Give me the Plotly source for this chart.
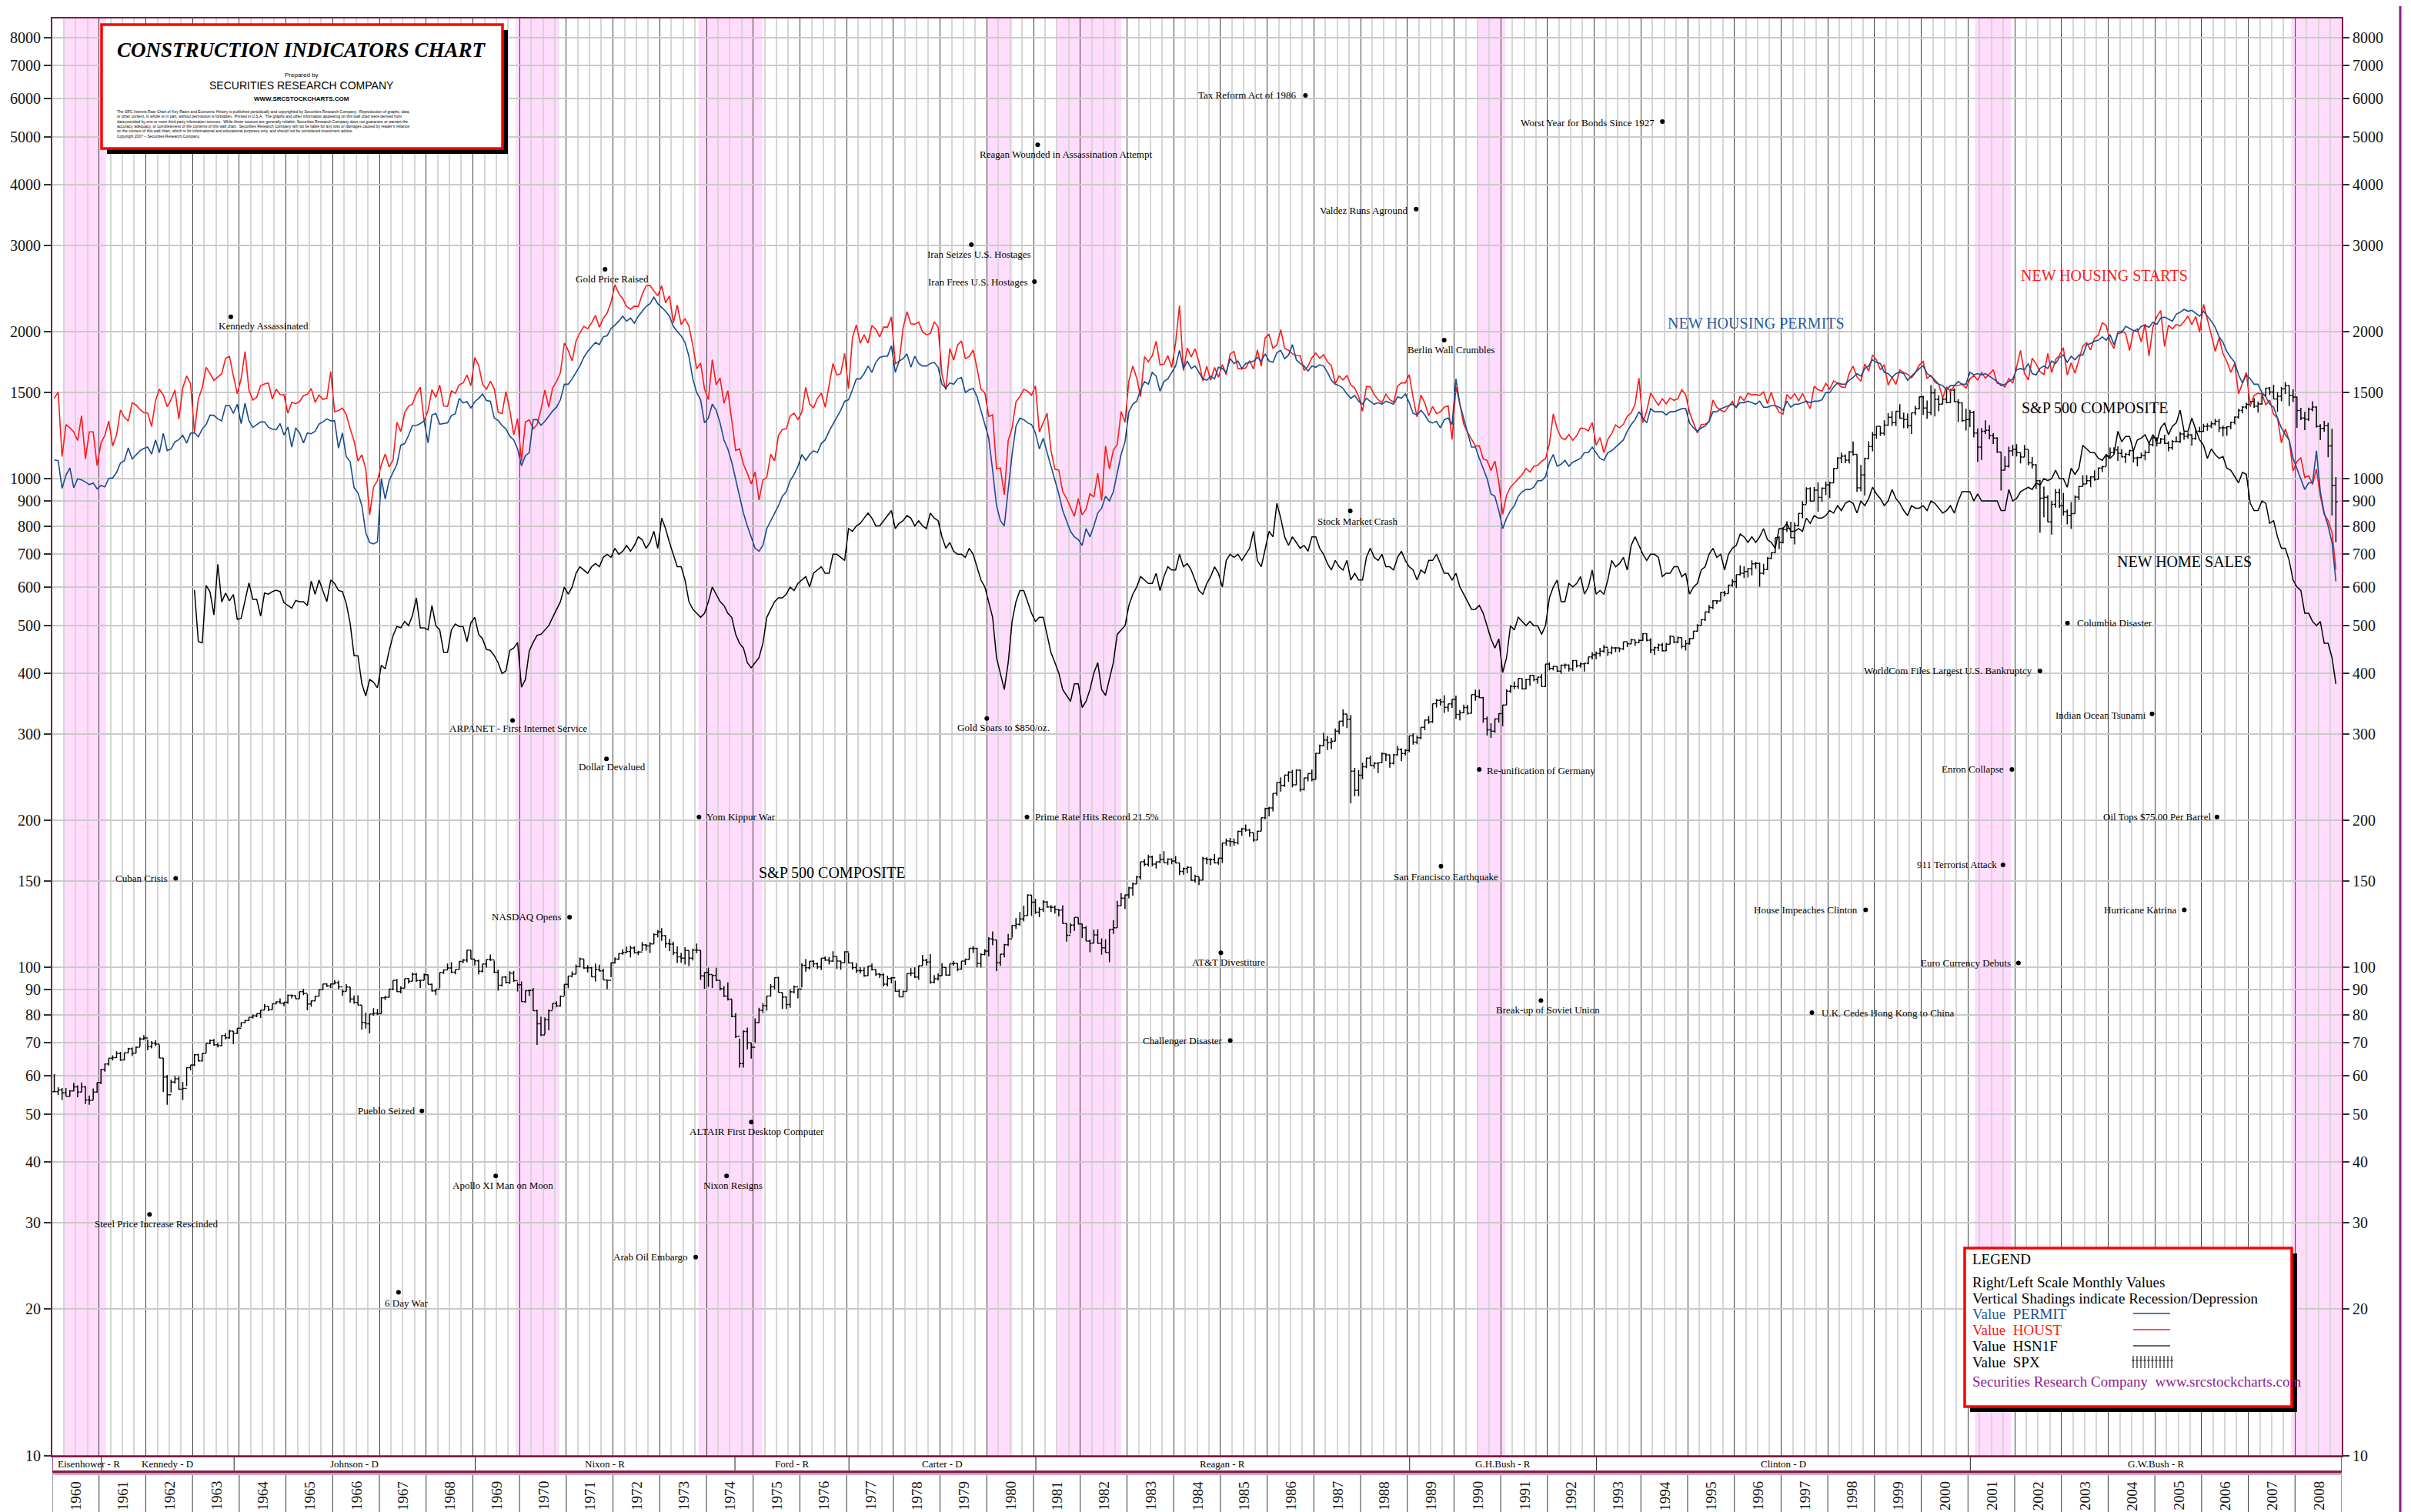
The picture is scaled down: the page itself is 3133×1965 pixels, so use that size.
import math
import plotly.graph_objects as go

# ---------------------------------------------------------------- data
START_YEAR = 1960

HOUST = [
    [1460, 1503, 1109, 1289, 1271, 1247, 1197, 1344, 1097, 1246, 1246, 1063],
    [1183, 1226, 1312, 1166, 1228, 1382, 1335, 1312, 1429, 1415, 1385, 1365],
    [1361, 1278, 1443, 1524, 1483, 1404, 1450, 1517, 1324, 1533, 1622, 1564],
    [1244, 1456, 1534, 1689, 1641, 1588, 1614, 1639, 1763, 1779, 1622, 1491],
    [1603, 1820, 1517, 1448, 1467, 1550, 1562, 1569, 1455, 1524, 1486, 1484],
    [1361, 1433, 1423, 1438, 1478, 1488, 1529, 1432, 1482, 1452, 1460, 1656],
    [1370, 1378, 1394, 1352, 1265, 1194, 1086, 1119, 1046, 843, 961, 990],
    [1067, 1123, 1056, 1091, 1304, 1248, 1364, 1407, 1421, 1491, 1538, 1308],
    [1380, 1520, 1466, 1554, 1408, 1405, 1512, 1495, 1556, 1569, 1630, 1548],
    [1769, 1705, 1561, 1524, 1583, 1528, 1368, 1358, 1507, 1381, 1229, 1327],
    [1085, 1305, 1319, 1264, 1290, 1385, 1517, 1399, 1534, 1580, 1647, 1893],
    [1828, 1741, 1910, 1986, 2049, 2026, 2083, 2158, 2041, 2128, 2182, 2295],
    [2494, 2390, 2334, 2249, 2221, 2254, 2252, 2382, 2481, 2485, 2421, 2366],
    [2481, 2289, 2365, 2084, 2266, 2067, 2123, 2051, 1874, 1677, 1724, 1526],
    [1451, 1752, 1555, 1607, 1426, 1513, 1316, 1142, 1150, 1070, 1026, 975],
    [1032, 904, 993, 1005, 1121, 1087, 1226, 1260, 1264, 1344, 1360, 1321],
    [1367, 1538, 1421, 1395, 1459, 1495, 1401, 1550, 1720, 1629, 1641, 1804],
    [1527, 1943, 2063, 1892, 1971, 1893, 2058, 2020, 1949, 2042, 2042, 2142],
    [1718, 1738, 2032, 2197, 2075, 2070, 2092, 1996, 1970, 1981, 2094, 2044],
    [1630, 1520, 1847, 1748, 1876, 1913, 1760, 1778, 1832, 1681, 1524, 1498],
    [1341, 1350, 1047, 1051, 927, 1196, 1269, 1436, 1471, 1523, 1510, 1482],
    [1547, 1246, 1306, 1360, 1140, 1045, 1041, 940, 911, 873, 837, 910],
    [843, 866, 931, 917, 1025, 902, 1166, 1046, 1144, 1173, 1372, 1303],
    [1586, 1699, 1606, 1472, 1776, 1733, 1785, 1910, 1710, 1715, 1785, 1688],
    [1897, 2260, 1663, 1851, 1774, 1843, 1732, 1586, 1698, 1590, 1689, 1612],
    [1711, 1632, 1800, 1821, 1680, 1676, 1684, 1743, 1676, 1834, 1698, 1942],
    [1972, 1848, 1876, 2018, 1848, 1831, 1800, 1786, 1784, 1664, 1699, 1767],
    [1807, 1763, 1792, 1733, 1704, 1566, 1622, 1592, 1626, 1555, 1532, 1473],
    [1373, 1544, 1542, 1486, 1450, 1431, 1488, 1450, 1433, 1545, 1571, 1570],
    [1632, 1464, 1337, 1483, 1429, 1345, 1405, 1359, 1369, 1400, 1409, 1202],
    [1541, 1422, 1291, 1244, 1205, 1166, 1167, 1097, 1089, 1039, 1086, 984],
    [845, 925, 960, 979, 996, 1019, 1049, 1031, 1060, 1064, 1085, 1099],
    [1180, 1357, 1263, 1213, 1201, 1231, 1198, 1224, 1269, 1266, 1252, 1303],
    [1170, 1213, 1130, 1203, 1237, 1288, 1270, 1291, 1342, 1362, 1420, 1606],
    [1301, 1376, 1496, 1452, 1413, 1457, 1422, 1462, 1446, 1457, 1520, 1484],
    [1364, 1300, 1240, 1290, 1292, 1305, 1448, 1399, 1381, 1369, 1403, 1438],
    [1394, 1474, 1444, 1495, 1484, 1486, 1480, 1504, 1424, 1503, 1411, 1367],
    [1355, 1486, 1457, 1492, 1442, 1494, 1437, 1390, 1546, 1520, 1510, 1566],
    [1525, 1584, 1567, 1540, 1536, 1641, 1698, 1614, 1582, 1715, 1660, 1792],
    [1748, 1670, 1710, 1553, 1611, 1559, 1669, 1648, 1635, 1608, 1648, 1708],
    [1737, 1604, 1626, 1575, 1559, 1463, 1541, 1507, 1549, 1551, 1560, 1532],
    [1600, 1625, 1590, 1649, 1605, 1636, 1670, 1567, 1562, 1540, 1602, 1568],
    [1698, 1829, 1642, 1592, 1764, 1717, 1655, 1633, 1804, 1648, 1753, 1788],
    [1853, 1629, 1726, 1643, 1751, 1867, 1897, 1833, 1939, 1967, 2083, 2057],
    [1911, 1846, 1998, 2003, 1981, 1828, 2002, 2024, 1905, 2072, 1782, 2042],
    [2144, 2207, 1864, 2061, 2025, 2068, 2054, 2095, 2151, 2065, 2147, 1994],
    [2273, 2119, 1969, 1821, 1942, 1802, 1737, 1650, 1720, 1491, 1570, 1649],
    [1409, 1480, 1495, 1490, 1415, 1448, 1354, 1330, 1183, 1264, 1197, 1037],
    [1084, 1103, 1005, 1013, 973, 1046, 923, 844, 820, 777, 652],
]

PERMIT = [
    [1092, 1088, 955, 1016, 1052, 958, 999, 994, 984, 972, 979, 953],
    [968, 962, 1001, 1003, 1029, 1076, 1088, 1156, 1097, 1118, 1140, 1153],
    [1160, 1122, 1200, 1130, 1238, 1141, 1150, 1190, 1201, 1226, 1182, 1238],
    [1241, 1218, 1263, 1290, 1349, 1347, 1325, 1313, 1411, 1410, 1360, 1420],
    [1295, 1427, 1313, 1273, 1291, 1306, 1306, 1274, 1262, 1259, 1296, 1228],
    [1275, 1160, 1270, 1240, 1183, 1240, 1235, 1250, 1293, 1306, 1325, 1313],
    [1313, 1154, 1240, 1109, 1083, 958, 935, 880, 775, 740, 735, 742],
    [1000, 908, 990, 1031, 1070, 1170, 1180, 1226, 1284, 1284, 1296, 1313],
    [1183, 1350, 1360, 1292, 1296, 1300, 1346, 1357, 1459, 1429, 1437, 1395],
    [1437, 1460, 1490, 1445, 1440, 1330, 1315, 1284, 1264, 1221, 1200, 1150],
    [1062, 1114, 1130, 1320, 1320, 1285, 1310, 1340, 1375, 1400, 1450, 1560],
    [1560, 1600, 1650, 1700, 1770, 1820, 1860, 1900, 1880, 1950, 1960, 2030],
    [2060, 2100, 2150, 2100, 2130, 2080, 2150, 2200, 2250, 2280, 2350, 2280],
    [2240, 2200, 2150, 2050, 2000, 1960, 1900, 1780, 1600, 1500, 1450, 1300],
    [1330, 1420, 1380, 1300, 1200, 1150, 1080, 1000, 920, 850, 800, 760],
    [720, 710, 730, 790, 820, 850, 880, 920, 940, 990, 1020, 1060],
    [1120, 1090, 1120, 1140, 1130, 1180, 1200, 1250, 1290, 1330, 1380, 1440],
    [1450, 1520, 1600, 1600, 1640, 1700, 1650, 1730, 1770, 1780, 1780, 1870],
    [1650, 1740, 1760, 1800, 1690, 1780, 1720, 1700, 1700, 1720, 1730, 1690],
    [1560, 1530, 1570, 1560, 1600, 1610, 1500, 1520, 1530, 1470, 1380, 1290],
    [1210, 1040, 880, 820, 800, 950, 1120, 1280, 1330, 1320, 1300, 1290],
    [1240, 1150, 1210, 1130, 1060, 1000, 930, 860, 820, 780, 760, 750],
    [730, 790, 760, 800, 850, 870, 920, 900, 940, 1030, 1120, 1190],
    [1370, 1420, 1440, 1520, 1580, 1560, 1650, 1620, 1510, 1580, 1600, 1650],
    [1700, 1830, 1680, 1740, 1680, 1700, 1650, 1600, 1590, 1620, 1600, 1690],
    [1680, 1650, 1760, 1720, 1740, 1680, 1720, 1730, 1740, 1770, 1740, 1800],
    [1740, 1730, 1810, 1830, 1760, 1790, 1880, 1750, 1720, 1700, 1660, 1700],
    [1690, 1710, 1700, 1650, 1590, 1560, 1550, 1530, 1490, 1460, 1480, 1440],
    [1420, 1460, 1440, 1420, 1430, 1420, 1440, 1430, 1420, 1470, 1460, 1490],
    [1430, 1360, 1350, 1380, 1350, 1310, 1300, 1310, 1270, 1320, 1330, 1290],
    [1600, 1420, 1320, 1240, 1160, 1160, 1100, 1050, 1000, 930, 920, 860],
    [790, 830, 860, 880, 920, 940, 950, 950, 960, 990, 990, 1010],
    [1080, 1120, 1060, 1070, 1090, 1060, 1080, 1090, 1100, 1130, 1130, 1160],
    [1130, 1100, 1090, 1130, 1140, 1160, 1180, 1200, 1250, 1290, 1320, 1370],
    [1330, 1300, 1390, 1370, 1370, 1370, 1350, 1370, 1370, 1380, 1390, 1390],
    [1300, 1270, 1250, 1270, 1280, 1310, 1370, 1370, 1390, 1400, 1410, 1420],
    [1400, 1430, 1430, 1440, 1430, 1420, 1440, 1400, 1400, 1410, 1410, 1400],
    [1380, 1440, 1400, 1420, 1420, 1430, 1440, 1430, 1440, 1440, 1450, 1500],
    [1500, 1540, 1570, 1560, 1560, 1590, 1610, 1640, 1620, 1680, 1700, 1750],
    [1730, 1720, 1650, 1640, 1610, 1640, 1650, 1640, 1590, 1620, 1650, 1680],
    [1700, 1640, 1620, 1590, 1560, 1550, 1520, 1550, 1550, 1580, 1560, 1560],
    [1650, 1630, 1640, 1630, 1640, 1620, 1600, 1580, 1550, 1560, 1580, 1600],
    [1670, 1680, 1670, 1720, 1640, 1630, 1680, 1700, 1680, 1740, 1720, 1770],
    [1790, 1730, 1780, 1750, 1790, 1790, 1880, 1890, 1910, 1920, 1950, 1920],
    [1970, 1880, 1980, 1990, 2050, 2030, 2010, 2000, 2050, 2060, 2040, 2090],
    [2070, 2130, 2140, 2120, 2100, 2170, 2190, 2220, 2200, 2210, 2180, 2150],
    [2200, 2150, 2100, 2040, 1950, 1900, 1820, 1770, 1730, 1630, 1570, 1630],
    [1600, 1560, 1560, 1500, 1470, 1420, 1400, 1330, 1270, 1230, 1200, 1100],
    [1050, 1000, 950, 980, 980, 1140, 940, 850, 800, 740, 616],
]

HSN1F_START_YEAR = 1963
HSN1F = [
    [591, 464, 461, 605, 586, 526, 668, 559, 583, 562, 579, 515],
    [518, 561, 612, 566, 566, 523, 583, 580, 587, 591, 587, 557],
    [550, 543, 563, 560, 560, 550, 617, 580, 620, 591, 560, 620],
    [610, 590, 587, 555, 505, 434, 434, 380, 359, 388, 383, 373],
    [415, 408, 444, 477, 498, 495, 510, 500, 525, 570, 495, 495],
    [490, 550, 500, 490, 441, 441, 490, 504, 498, 498, 464, 507],
    [520, 480, 470, 447, 445, 434, 420, 399, 404, 445, 450, 462],
    [374, 388, 444, 462, 478, 480, 490, 500, 520, 540, 560, 600],
    [580, 600, 640, 660, 650, 640, 660, 670, 660, 690, 700, 690],
    [720, 700, 710, 730, 710, 730, 760, 750, 720, 740, 780, 720],
    [830, 790, 740, 700, 660, 660, 620, 560, 540, 530, 520, 530],
    [560, 600, 580, 560, 550, 530, 520, 480, 460, 450, 420, 410],
    [420, 430, 460, 520, 540, 560, 570, 570, 580, 600, 590, 610],
    [620, 630, 600, 640, 650, 660, 640, 640, 700, 700, 690, 680],
    [790, 780, 800, 810, 830, 850, 830, 800, 800, 820, 840, 860],
    [790, 810, 820, 840, 830, 800, 820, 800, 790, 850, 830, 820],
    [760, 720, 740, 710, 700, 700, 690, 720, 700, 660, 620, 600],
    [560, 520, 430, 400, 370, 420, 510, 560, 590, 590, 560, 530],
    [510, 520, 520, 480, 440, 420, 400, 370, 360, 350, 380, 380],
    [340, 350, 370, 400, 420, 370, 360, 390, 420, 480, 490, 500],
    [550, 580, 600, 630, 620, 610, 610, 640, 590, 630, 660, 650],
    [650, 700, 660, 670, 650, 620, 590, 580, 610, 630, 660, 640],
    [600, 680, 700, 690, 700, 680, 700, 720, 780, 680, 660, 720],
    [780, 760, 890, 830, 760, 730, 760, 740, 720, 730, 710, 760],
    [760, 720, 700, 670, 650, 680, 660, 650, 680, 620, 640, 620],
    [620, 690, 720, 690, 680, 700, 660, 660, 650, 690, 710, 680],
    [660, 650, 620, 650, 640, 680, 680, 700, 670, 640, 640, 620],
    [640, 600, 580, 560, 540, 540, 550, 530, 500, 470, 450, 470],
    [401, 430, 500, 490, 520, 510, 500, 510, 500, 500, 480, 500],
    [570, 600, 620, 560, 560, 610, 600, 610, 630, 580, 600, 650],
    [580, 590, 580, 620, 680, 660, 670, 690, 650, 730, 760, 730],
    [700, 680, 700, 700, 690, 630, 640, 640, 660, 660, 630, 640],
    [580, 600, 610, 650, 660, 700, 720, 690, 700, 650, 700, 720],
    [730, 770, 760, 740, 760, 740, 760, 790, 750, 740, 720, 790],
    [790, 810, 780, 780, 790, 780, 830, 810, 840, 830, 830, 840],
    [860, 850, 880, 860, 890, 900, 890, 850, 900, 880, 910, 960],
    [930, 910, 880, 900, 950, 910, 890, 860, 840, 880, 870, 870],
    [880, 860, 900, 890, 870, 850, 860, 880, 850, 900, 940, 940],
    [940, 900, 930, 900, 900, 900, 900, 900, 860, 860, 950, 900],
    [910, 940, 950, 960, 950, 980, 970, 1000, 990, 1000, 1040, 1000],
    [1000, 960, 1050, 1020, 1050, 1170, 1150, 1130, 1130, 1100, 1090, 1120],
    [1100, 1120, 1250, 1190, 1220, 1220, 1140, 1200, 1210, 1230, 1180, 1230],
    [1190, 1270, 1300, 1230, 1280, 1300, 1380, 1250, 1250, 1330, 1260, 1200],
    [1170, 1100, 1150, 1120, 1100, 1110, 1050, 1040, 1010, 980, 1030, 1020],
    [890, 860, 860, 900, 890, 810, 820, 760, 720, 720, 680, 620],
    [600, 590, 530, 530, 510, 500, 510, 460, 460, 430, 380],
]

SPX_CLOSE = [
    [55.6, 56.1, 55.3, 54.4, 55.8, 56.9, 55.5, 56.9, 53.5, 53.4, 55.5, 58.1],
    [61.8, 63.4, 65.1, 65.3, 66.6, 64.6, 66.8, 68.1, 66.7, 68.6, 71.3, 71.6],
    [68.8, 69.9, 69.6, 65.2, 59.6, 54.8, 58.2, 59.1, 56.3, 56.5, 62.3, 63.1],
    [66.2, 64.3, 66.6, 69.8, 70.8, 69.4, 69.1, 72.5, 71.7, 74.0, 73.2, 75.0],
    [77.0, 77.8, 79.0, 79.5, 80.4, 81.7, 83.2, 81.8, 84.2, 84.9, 84.4, 84.8],
    [87.6, 87.4, 86.2, 89.1, 88.4, 84.1, 85.3, 87.2, 89.9, 92.4, 91.6, 92.4],
    [92.9, 91.2, 89.2, 91.1, 86.1, 84.7, 83.6, 77.1, 76.6, 80.2, 80.5, 80.3],
    [86.6, 86.8, 90.2, 94.0, 89.1, 90.6, 94.8, 93.6, 96.7, 93.9, 94.0, 96.5],
    [92.2, 89.4, 90.2, 97.6, 98.7, 99.6, 97.7, 98.9, 102.7, 103.4, 108.4, 103.9],
    [103.0, 98.1, 101.5, 103.7, 103.5, 97.7, 91.8, 95.5, 93.1, 97.2, 93.8, 92.1],
    [85.0, 89.5, 89.6, 81.5, 76.6, 72.7, 78.1, 81.5, 84.3, 83.3, 87.2, 92.2],
    [95.9, 96.8, 100.3, 104.0, 99.6, 99.7, 95.6, 99.0, 98.3, 94.2, 94.0, 102.1],
    [103.9, 106.6, 107.2, 107.7, 109.5, 107.1, 107.4, 111.1, 110.6, 111.6, 116.7, 118.1],
    [116.0, 111.7, 111.5, 107.0, 105.0, 104.3, 108.2, 104.3, 108.4, 108.3, 96.0, 97.6],
    [96.6, 96.2, 94.0, 90.3, 87.3, 86.0, 79.3, 72.2, 63.5, 73.9, 70.0, 68.6],
    [77.0, 81.6, 83.4, 87.3, 91.2, 95.2, 88.8, 86.9, 83.9, 89.0, 91.2, 90.2],
    [100.9, 99.7, 102.8, 101.6, 100.2, 104.3, 103.4, 102.9, 105.2, 102.9, 102.1, 107.5],
    [102.0, 99.8, 98.4, 98.4, 96.1, 100.5, 98.9, 96.8, 96.5, 92.3, 94.8, 95.1],
    [89.3, 87.0, 89.2, 97.0, 97.2, 95.5, 100.7, 103.3, 102.5, 93.2, 94.7, 96.1],
    [99.9, 96.3, 101.6, 101.8, 99.1, 102.9, 103.8, 109.3, 109.3, 101.8, 106.2, 107.9],
    [114.2, 113.7, 102.1, 106.3, 111.2, 114.2, 121.7, 122.4, 125.5, 127.5, 140.5, 135.8],
    [129.6, 131.3, 136.0, 132.8, 132.6, 131.2, 130.9, 122.8, 116.2, 121.9, 126.4, 122.6],
    [120.4, 113.1, 112.0, 116.4, 111.9, 109.6, 107.1, 119.5, 120.4, 133.7, 138.5, 140.6],
    [145.3, 148.1, 153.0, 164.4, 162.4, 168.1, 162.6, 164.4, 166.1, 163.6, 166.4, 164.9],
    [163.4, 157.1, 159.2, 160.1, 150.6, 153.2, 150.7, 166.7, 166.1, 166.1, 163.6, 167.2],
    [179.6, 181.2, 180.7, 179.8, 189.6, 191.9, 190.9, 188.6, 182.1, 189.8, 202.2, 211.3],
    [211.8, 226.9, 238.9, 235.5, 247.4, 250.8, 236.1, 252.9, 231.3, 244.0, 249.2, 242.2],
    [274.1, 284.2, 291.7, 288.4, 290.1, 304.0, 318.7, 329.8, 321.8, 251.8, 230.3, 247.1],
    [257.1, 267.8, 258.9, 261.3, 262.2, 273.5, 272.0, 261.5, 271.9, 279.0, 273.7, 277.7],
    [297.5, 288.9, 294.9, 309.6, 320.5, 318.0, 346.1, 351.5, 349.2, 340.4, 346.0, 353.4],
    [329.1, 331.9, 339.9, 330.8, 361.2, 358.0, 356.2, 322.6, 306.1, 304.0, 322.2, 330.2],
    [343.9, 367.1, 375.2, 375.3, 389.8, 371.2, 387.8, 395.4, 387.9, 392.5, 375.2, 417.1],
    [408.8, 412.7, 403.7, 415.0, 415.4, 408.1, 424.2, 414.0, 417.8, 418.7, 431.4, 435.7],
    [438.8, 443.4, 451.7, 440.2, 450.2, 450.5, 448.1, 463.6, 458.9, 467.8, 461.8, 466.5],
    [481.6, 467.1, 445.8, 450.9, 456.5, 444.3, 458.3, 475.5, 462.7, 472.4, 453.7, 459.3],
    [470.4, 487.4, 500.7, 514.7, 533.4, 544.8, 562.1, 561.9, 584.4, 581.5, 605.4, 615.9],
    [636.0, 640.4, 645.5, 654.2, 669.1, 670.6, 640.0, 652.0, 687.3, 705.3, 757.0, 740.7],
    [786.2, 790.8, 757.1, 801.3, 848.3, 885.1, 954.3, 899.5, 947.3, 914.6, 955.4, 970.4],
    [980.3, 1049.3, 1101.8, 1111.8, 1090.8, 1133.8, 1120.7, 957.3, 1017.0, 1098.7, 1163.6, 1229.2],
    [1279.6, 1238.3, 1286.4, 1335.2, 1301.8, 1372.7, 1328.7, 1320.4, 1282.7, 1362.9, 1389.0, 1469.3],
    [1394.5, 1366.4, 1498.6, 1452.4, 1420.6, 1454.6, 1430.8, 1517.7, 1436.5, 1429.4, 1315.2, 1320.3],
    [1366.0, 1239.9, 1160.3, 1249.5, 1255.8, 1224.4, 1211.2, 1133.6, 1040.9, 1059.8, 1139.5, 1148.1],
    [1130.2, 1106.7, 1147.4, 1076.9, 1067.1, 989.8, 911.6, 916.1, 815.3, 885.8, 936.3, 879.8],
    [855.7, 841.2, 848.2, 916.9, 963.6, 974.5, 990.3, 1008.0, 996.0, 1050.7, 1058.2, 1111.9],
    [1131.1, 1144.9, 1126.2, 1107.3, 1120.7, 1140.8, 1101.7, 1104.2, 1114.6, 1130.2, 1173.8, 1211.9],
    [1181.3, 1203.6, 1180.6, 1156.9, 1191.5, 1191.3, 1234.2, 1220.3, 1228.8, 1207.0, 1249.5, 1248.3],
    [1280.1, 1280.7, 1294.9, 1310.6, 1270.1, 1270.2, 1276.7, 1303.8, 1335.9, 1377.9, 1400.6, 1418.3],
    [1438.2, 1406.8, 1420.9, 1482.4, 1530.6, 1503.4, 1455.3, 1474.0, 1526.8, 1549.4, 1481.1, 1468.4],
    [1378.6, 1330.6, 1322.7, 1385.6, 1400.4, 1280.0, 1267.4, 1282.8, 1166.4, 968.8, 896.2],
]

SPX_HIGH = [
    [60.4, 56.8, 56.6, 56.6, 56.0, 58.0, 57.3, 58.1, 57.1, 54.6, 56.5, 58.1],
    [61.9, 63.5, 65.1, 66.0, 67.3, 67.1, 66.8, 68.4, 68.5, 68.9, 71.8, 72.6],
    [71.1, 70.6, 70.9, 69.4, 65.2, 60.2, 58.9, 59.9, 59.8, 58.2, 62.4, 63.1],
    [66.4, 66.5, 66.6, 69.8, 71.1, 71.3, 70.0, 72.5, 73.3, 74.5, 74.0, 75.0],
    [77.1, 78.0, 79.1, 80.1, 80.4, 81.7, 84.0, 83.2, 84.2, 85.2, 86.3, 84.8],
    [87.9, 87.9, 87.5, 89.2, 90.3, 88.1, 85.5, 87.2, 90.0, 92.4, 92.7, 92.6],
    [94.1, 93.8, 90.1, 92.4, 91.1, 87.5, 87.6, 83.5, 80.7, 80.2, 82.4, 82.1],
    [86.7, 87.4, 90.2, 94.0, 94.6, 91.4, 94.8, 95.0, 97.6, 97.3, 94.0, 97.0],
    [96.6, 92.6, 90.2, 97.6, 99.0, 101.7, 102.4, 98.9, 102.7, 104.0, 108.4, 108.4],
    [103.7, 103.6, 101.5, 103.7, 106.2, 103.1, 98.9, 95.5, 96.0, 98.1, 98.3, 93.2],
    [93.5, 89.5, 90.0, 90.7, 81.8, 79.2, 78.9, 81.9, 84.3, 85.2, 87.5, 92.3],
    [95.9, 98.0, 101.3, 104.6, 103.9, 101.0, 100.2, 101.7, 101.2, 99.4, 94.2, 102.2],
    [104.7, 106.7, 108.9, 110.2, 110.7, 110.4, 108.0, 112.6, 111.5, 112.6, 117.3, 119.1],
    [120.2, 116.3, 114.2, 112.8, 110.4, 107.0, 109.9, 108.2, 109.2, 111.8, 108.3, 97.6],
    [99.8, 96.6, 99.7, 93.9, 91.5, 93.1, 86.0, 80.5, 71.4, 74.3, 75.2, 70.0],
    [78.6, 82.6, 84.4, 87.4, 92.3, 95.2, 95.6, 88.8, 87.2, 90.1, 91.7, 90.4],
    [101.9, 104.0, 102.8, 103.4, 102.2, 104.3, 105.2, 105.0, 107.8, 105.2, 103.1, 107.8],
    [107.0, 102.5, 101.9, 100.0, 99.9, 100.5, 101.7, 99.1, 97.3, 97.1, 96.1, 95.5],
    [93.8, 90.1, 89.5, 97.0, 99.5, 99.9, 100.7, 106.0, 104.1, 106.3, 96.3, 97.1],
    [101.9, 100.0, 101.6, 103.0, 101.8, 102.9, 104.2, 109.3, 110.5, 109.6, 106.8, 108.9],
    [115.2, 118.4, 113.7, 106.3, 111.6, 117.0, 122.0, 126.0, 129.7, 133.7, 141.0, 140.5],
    [138.1, 132.7, 137.1, 136.6, 134.0, 133.8, 131.3, 133.9, 123.0, 123.0, 126.4, 126.3],
    [122.7, 121.4, 113.8, 119.3, 119.5, 114.6, 114.0, 119.5, 124.9, 136.7, 141.9, 140.6],
    [146.0, 149.0, 153.8, 164.4, 166.4, 170.0, 169.1, 164.4, 170.4, 172.7, 167.0, 167.0],
    [168.8, 163.4, 159.9, 161.0, 160.5, 154.6, 153.1, 168.2, 168.0, 167.0, 170.4, 167.5],
    [179.8, 183.4, 183.9, 183.4, 190.3, 192.9, 196.0, 192.1, 188.6, 190.1, 202.4, 212.0],
    [213.0, 227.0, 238.9, 244.7, 247.4, 251.8, 253.2, 254.2, 254.2, 244.0, 249.2, 254.0],
    [274.2, 285.5, 301.9, 297.2, 294.6, 308.0, 318.7, 336.8, 329.8, 328.1, 255.8, 253.2],
    [262.1, 268.6, 271.1, 263.0, 262.2, 275.0, 274.0, 272.3, 273.0, 283.7, 280.6, 279.4],
    [297.9, 301.1, 298.2, 309.6, 321.5, 326.8, 346.1, 353.7, 354.6, 360.4, 346.0, 353.4],
    [359.7, 336.1, 344.5, 344.3, 361.2, 369.8, 369.8, 357.3, 325.8, 315.7, 322.2, 330.9],
    [344.0, 370.5, 378.3, 384.2, 389.8, 389.8, 389.4, 396.2, 396.6, 393.1, 398.0, 417.1],
    [420.8, 413.8, 412.8, 416.0, 418.5, 416.7, 424.8, 425.1, 420.6, 418.7, 431.4, 441.3],
    [442.5, 450.3, 456.3, 449.4, 453.8, 451.9, 451.2, 463.6, 463.6, 470.1, 467.6, 468.6],
    [482.9, 482.0, 471.1, 453.0, 459.3, 461.2, 461.0, 477.6, 474.0, 475.0, 472.4, 466.8],
    [472.0, 487.7, 503.2, 514.7, 533.4, 551.1, 563.8, 563.7, 586.2, 589.0, 606.9, 622.9],
    [636.0, 664.2, 661.5, 656.1, 680.0, 675.9, 672.7, 669.2, 690.9, 706.1, 757.0, 761.8],
    [794.7, 817.7, 816.3, 812.9, 850.1, 898.7, 960.3, 960.3, 960.5, 983.1, 959.2, 986.3],
    [985.3, 1050.0, 1106.0, 1130.0, 1121.0, 1138.0, 1190.6, 1121.0, 1066.1, 1103.8, 1192.6, 1244.9],
    [1280.0, 1281.0, 1316.0, 1362.0, 1375.0, 1372.7, 1420.0, 1365.0, 1358.0, 1362.9, 1408.0, 1473.0],
    [1478.0, 1445.0, 1553.0, 1528.0, 1481.0, 1475.0, 1518.0, 1525.0, 1530.0, 1454.0, 1432.0, 1389.0],
    [1383.0, 1376.0, 1267.0, 1269.0, 1316.0, 1287.0, 1239.0, 1215.0, 1135.0, 1111.0, 1162.0, 1173.0],
    [1176.0, 1131.0, 1172.0, 1147.0, 1107.0, 1070.0, 994.0, 963.0, 925.0, 900.0, 952.0, 954.0],
    [935.0, 865.0, 895.0, 924.0, 965.0, 1015.0, 1016.0, 1011.0, 1040.0, 1054.0, 1063.0, 1112.0],
    [1158.0, 1159.0, 1164.0, 1150.0, 1128.0, 1146.0, 1141.0, 1109.0, 1130.0, 1142.0, 1188.0, 1217.0],
    [1212.0, 1212.0, 1229.0, 1192.0, 1199.0, 1219.0, 1246.0, 1245.0, 1243.0, 1233.0, 1270.0, 1276.0],
    [1295.0, 1297.0, 1310.0, 1326.0, 1326.0, 1284.0, 1280.0, 1306.0, 1340.0, 1389.0, 1407.0, 1431.0],
    [1441.0, 1462.0, 1438.0, 1499.0, 1535.0, 1540.0, 1556.0, 1504.0, 1539.0, 1576.0, 1554.0, 1523.0],
    [1471.0, 1396.0, 1370.0, 1397.0, 1440.0, 1405.0, 1292.0, 1313.0, 1300.0, 1264.0, 1007.0],
]

SPX_LOW = [
    [55.6, 54.7, 53.5, 54.4, 54.3, 55.7, 54.2, 55.5, 52.5, 52.3, 53.5, 55.3],
    [57.6, 61.1, 62.9, 64.4, 65.2, 64.3, 64.4, 66.7, 65.8, 66.7, 68.7, 70.9],
    [67.6, 68.2, 69.0, 65.2, 55.5, 52.3, 55.4, 57.8, 56.1, 53.5, 57.1, 61.5],
    [62.7, 64.1, 64.1, 66.8, 69.5, 69.1, 68.5, 68.9, 71.2, 71.4, 69.6, 73.0],
    [75.4, 76.9, 77.8, 78.5, 79.0, 78.7, 81.7, 81.3, 81.8, 84.0, 84.2, 83.2],
    [84.2, 86.3, 86.2, 86.3, 87.7, 81.6, 83.0, 85.3, 87.2, 89.9, 91.2, 90.6],
    [92.2, 90.2, 87.4, 89.2, 84.6, 84.2, 83.6, 74.5, 74.9, 73.2, 79.6, 79.8],
    [80.4, 85.6, 86.6, 89.8, 89.1, 88.4, 90.6, 92.6, 93.6, 93.3, 90.7, 94.0],
    [92.2, 89.1, 87.7, 90.6, 96.9, 98.7, 97.3, 96.7, 98.9, 101.9, 102.3, 103.9],
    [100.8, 96.7, 97.6, 99.8, 103.0, 97.2, 89.5, 91.3, 92.7, 92.4, 93.3, 89.2],
    [85.0, 84.6, 87.3, 81.5, 69.3, 72.3, 72.9, 74.3, 81.9, 82.8, 83.0, 87.5],
    [90.6, 95.3, 96.9, 100.0, 99.3, 97.6, 95.6, 93.5, 98.0, 94.2, 90.2, 95.4],
    [101.7, 103.5, 106.1, 106.9, 104.7, 106.6, 105.9, 107.9, 108.1, 106.8, 111.7, 115.1],
    [113.2, 109.6, 107.9, 105.9, 102.0, 102.1, 101.3, 100.5, 103.2, 106.8, 94.2, 90.3],
    [91.2, 90.7, 93.7, 89.6, 86.9, 85.5, 79.0, 71.6, 62.3, 62.3, 67.9, 65.0],
    [70.0, 76.9, 80.6, 81.5, 87.1, 90.1, 88.8, 82.2, 82.1, 82.6, 88.4, 86.3],
    [90.9, 97.9, 99.0, 100.0, 99.2, 98.6, 103.0, 101.3, 102.6, 99.2, 98.8, 102.1],
    [101.8, 98.9, 97.3, 97.0, 95.6, 96.0, 98.4, 96.0, 95.0, 91.4, 91.3, 92.7],
    [89.1, 87.0, 86.9, 89.3, 95.9, 95.0, 94.3, 100.7, 100.8, 92.5, 92.7, 93.9],
    [96.0, 96.1, 96.0, 100.8, 98.1, 98.9, 101.1, 103.6, 106.9, 99.9, 99.9, 105.8],
    [105.2, 110.9, 98.2, 100.6, 104.7, 110.5, 114.9, 119.8, 121.6, 124.1, 127.5, 127.4],
    [128.5, 126.6, 129.7, 132.3, 129.7, 128.8, 127.0, 122.8, 112.8, 117.2, 118.7, 122.3],
    [114.8, 113.1, 107.3, 111.9, 111.7, 106.1, 107.1, 102.4, 117.0, 120.4, 133.6, 131.6],
    [138.3, 140.0, 147.9, 151.0, 161.0, 160.6, 160.8, 159.2, 163.3, 163.4, 161.8, 162.4],
    [163.4, 154.3, 154.7, 155.6, 150.2, 149.0, 147.3, 150.7, 162.4, 161.7, 163.0, 162.1],
    [163.4, 177.1, 176.5, 177.2, 178.4, 185.9, 189.5, 184.9, 180.7, 181.9, 189.8, 200.9],
    [203.5, 208.4, 224.4, 228.8, 233.9, 239.6, 233.4, 235.7, 228.7, 229.9, 240.0, 240.0],
    [242.2, 273.2, 283.0, 278.2, 279.4, 289.8, 300.0, 310.7, 308.5, 216.5, 223.9, 223.9],
    [242.6, 255.6, 258.5, 255.0, 249.5, 262.2, 264.0, 256.0, 260.0, 271.2, 264.0, 271.2],
    [275.3, 285.4, 286.0, 292.7, 305.5, 314.9, 316.1, 340.0, 343.2, 331.6, 333.6, 339.5],
    [322.2, 320.0, 330.9, 328.7, 330.8, 350.9, 355.6, 316.6, 298.2, 294.5, 301.9, 316.9],
    [311.5, 343.9, 364.2, 370.5, 371.3, 370.1, 370.4, 376.5, 384.5, 380.6, 375.2, 375.1],
    [405.1, 405.0, 401.9, 398.8, 408.2, 402.7, 403.5, 410.6, 410.3, 402.7, 416.9, 426.3],
    [426.9, 432.4, 440.2, 433.5, 437.0, 441.4, 441.3, 446.0, 451.9, 457.6, 455.0, 460.6],
    [465.4, 464.3, 438.9, 435.9, 443.8, 442.8, 443.3, 458.2, 460.2, 460.1, 449.0, 444.6],
    [457.2, 469.7, 485.4, 500.2, 511.1, 530.2, 540.8, 553.6, 562.1, 573.8, 581.5, 601.0],
    [597.3, 633.8, 626.0, 627.6, 634.0, 654.4, 600.8, 636.3, 649.4, 684.2, 703.8, 716.7],
    [737.0, 777.9, 756.8, 733.5, 798.5, 829.8, 887.8, 897.6, 899.5, 855.3, 896.1, 924.9],
    [912.8, 979.0, 1048.0, 1075.0, 1075.0, 1074.0, 1114.0, 939.0, 942.0, 923.3, 1098.0, 1136.8],
    [1206.0, 1223.0, 1225.0, 1282.0, 1282.0, 1281.0, 1325.0, 1268.0, 1268.0, 1234.0, 1348.0, 1387.0],
    [1350.0, 1325.0, 1348.0, 1340.0, 1373.0, 1420.0, 1425.0, 1429.0, 1436.0, 1305.0, 1305.0, 1254.0],
    [1275.0, 1214.0, 1082.0, 1092.0, 1233.0, 1203.0, 1177.0, 1129.0, 945.0, 1040.0, 1054.0, 1112.0],
    [1110.0, 1074.0, 1106.0, 1064.0, 1049.0, 952.0, 775.0, 833.0, 815.0, 768.0, 872.0, 871.0],
    [840.0, 806.0, 789.0, 847.0, 903.0, 963.0, 975.0, 960.0, 990.0, 996.0, 1031.0, 1061.0],
    [1108.0, 1124.0, 1087.0, 1105.0, 1076.0, 1113.0, 1079.0, 1060.0, 1101.0, 1090.0, 1127.0, 1163.0],
    [1163.0, 1180.0, 1176.0, 1137.0, 1146.0, 1188.0, 1183.0, 1201.0, 1206.0, 1168.0, 1201.0, 1243.0],
    [1245.0, 1253.0, 1268.0, 1284.0, 1245.0, 1219.0, 1224.0, 1262.0, 1291.0, 1327.0, 1360.0, 1386.0],
    [1403.0, 1396.0, 1364.0, 1416.0, 1476.0, 1484.0, 1454.0, 1371.0, 1439.0, 1489.0, 1407.0, 1435.0],
    [1270.0, 1317.0, 1257.0, 1312.0, 1373.0, 1272.0, 1200.0, 1247.0, 1106.0, 840.0, 741.0],
]

TICK_VALUES = [10, 20, 30, 40, 50, 60, 70, 80, 90, 100, 150, 200, 300, 400, 500,
               600, 700, 800, 900, 1000, 1500, 2000, 3000, 4000, 5000, 6000, 7000, 8000]
YEARS = list(range(1960, 2009))

PRESIDENTS = ["Eisenhower - R", "Kennedy - D", "Johnson - D", "Nixon - R", "Ford - R",
              "Carter - D", "Reagan - R", "G.H.Bush - R", "Clinton - D", "G.W.Bush - R"]
PRES_START = [1960.0, 1961.05, 1963.89, 1969.05, 1974.61, 1977.05, 1981.05, 1989.05, 1993.05, 2001.05]
PRES_END_ALL = 2009.0

REC_START = [1960.23, 1969.92, 1973.83, 1980.0, 1981.5, 1990.5, 2001.15, 2007.92]
REC_END = [1961.15, 1970.85, 1975.2, 1980.55, 1982.88, 1991.1, 2001.92, 2009.0]

EVENT_NAMES = [
    "Kennedy Assassinated", "Cuban Crisis", "Steel Price Increase Rescinded", "Pueblo Seized",
    "6 Day War", "Apollo XI Man on Moon", "ARPANET - First Internet Service", "NASDAQ Opens",
    "Dollar Devalued", "Gold Price Raised", "Yom Kippur War", "ALTAIR First Desktop Computer",
    "Nixon Resigns", "Arab Oil Embargo", "Iran Seizes U.S. Hostages", "Iran Frees U.S. Hostages",
    "Reagan Wounded in Assassination Attempt", "Gold Soars to $850/oz.", "Prime Rate Hits Record 21.5%",
    "Tax Reform Act of 1986", "AT&T Divestiture", "Challenger Disaster", "Stock Market Crash",
    "Valdez Runs Aground", "Berlin Wall Crumbles", "Worst Year for Bonds Since 1927",
    "San Francisco Earthquake", "Re-unification of Germany", "Break-up of Soviet Union",
    "U.K. Cedes Hong Kong to China", "House Impeaches Clinton", "Columbia Disaster",
    "WorldCom Files Largest U.S. Bankruptcy", "Indian Ocean Tsunami", "Enron Collapse",
    "Oil Tops $75.00 Per Barrel", "911 Terrorist Attack", "Hurricane Katrina", "Euro Currency Debuts",
]
EVENT_X = [1963.82, 1962.64, 1962.08, 1967.91, 1967.41, 1969.49, 1969.85, 1971.07,
           1971.86, 1971.83, 1973.84, 1974.96, 1974.43, 1973.77, 1979.67, 1981.02,
           1981.09, 1980.0, 1980.86, 1986.82, 1985.01, 1985.21, 1987.78, 1989.19,
           1989.79, 1994.46, 1989.72, 1990.54, 1991.86, 1997.66, 1998.81, 2003.13,
           2002.54, 2004.94, 2001.94, 2006.33, 2001.75, 2005.63, 2002.08]
EVENT_Y = [2143, 152, 31.2, 50.8, 21.6, 37.4, 320, 126.6,
           267, 2680, 203, 48.2, 37.4, 25.5, 3010, 2530,
           4820, 323, 203, 6085, 107, 70.8, 859, 3560,
           1920, 5380, 161, 254, 85.5, 80.7, 131, 506,
           404, 330, 254, 203, 162, 131, 102]

SERIES_LABELS = ["S&P 500 COMPOSITE", "NEW HOUSING PERMITS", "NEW HOUSING STARTS",
                 "S&P 500 COMPOSITE", "NEW HOME SALES"]
SERIES_LABEL_X = [1976.69, 1996.47, 2003.92, 2003.72, 2005.63]
SERIES_LABEL_Y = [156, 2080, 2605, 1396, 676]

# ---------------------------------------------------------------- style / geometry
W, H = 3133, 1965
ML, MR, MT, MB = 60, 98, 16, 81
PW, PH = W - ML - MR, H - MT - MB
SERIF = "Liberation Serif"
SANS = "Liberation Sans"
MAROON = "#7d1b45"
BLUE = "#1a4d8f"
RED = "#ff1a1a"
PINK = "#ffdcfc"
PURPLE = "#8e1a8e"

# label placement per event: (xanchor, dx px, dy px downward)
EVENT_STYLE = [
    ("left", -18, 12), ("right", -8, 0), ("center", 9, 12), ("right", -6, 0),
    ("center", 10, 14), ("center", 9, 12), ("center", 7, 10), ("right", -8, 0),
    ("center", 7, 10), ("center", 9, 12), ("left", 8, 0), ("center", 7, 12),
    ("center", 8, 12), ("right", -8, 0), ("center", 10, 12), ("right", -6, 0),
    ("center", 37, 12), ("center", 22, 12), ("left", 8, 0), ("right", -10, 0),
    ("center", 10, 12), ("right", -8, 0), ("center", 9, 14), ("right", -8, 2),
    ("center", 9, 12), ("right", -8, 2), ("center", 7, 14), ("left", 8, 2),
    ("center", 9, 12), ("left", 10, 0), ("right", -8, 0), ("left", 10, 0),
    ("right", -8, 0), ("right", -6, 2), ("right", -8, 0), ("right", -6, 0),
    ("right", -6, 0), ("right", -8, 0), ("right", -8, 0),
]
SERIES_LABEL_COLORS = ["black", "#2a5aa0", RED, "black", "black"]


def pxx(x):
    return (x - ML) / PW


def pxy(y):
    return (H - MB - y) / PH


def monthly(rows, start):
    xs, ys = [], []
    for i, row in enumerate(rows):
        for m, v in enumerate(row):
            xs.append(start + i + (m + 0.5) / 12.0)
            ys.append(v)
    return xs, ys


fig = go.Figure()

hx, hy = monthly(HOUST, START_YEAR)
px_, py_ = monthly(PERMIT, START_YEAR)
sx, sy = monthly(HSN1F, HSN1F_START_YEAR)
cx, cc = monthly(SPX_CLOSE, START_YEAR)
_, ch = monthly(SPX_HIGH, START_YEAR)
_, cl = monthly(SPX_LOW, START_YEAR)
co = [cc[0]] + cc[:-1]

fig.add_trace(go.Scatter(x=hx, y=hy, mode="lines", line=dict(color=RED, width=1.6),
                         hoverinfo="skip"))
fig.add_trace(go.Scatter(x=px_, y=py_, mode="lines", line=dict(color=BLUE, width=1.6),
                         hoverinfo="skip"))
fig.add_trace(go.Scatter(x=sx, y=sy, mode="lines", line=dict(color="black", width=1.5),
                         hoverinfo="skip"))
fig.add_trace(go.Ohlc(x=cx, open=co, high=ch, low=cl, close=cc, tickwidth=0.45,
                      increasing=dict(line=dict(color="black", width=1.5)),
                      decreasing=dict(line=dict(color="black", width=1.5)),
                      hoverinfo="skip"))
fig.add_trace(go.Scatter(x=EVENT_X, y=EVENT_Y, mode="markers",
                         marker=dict(color="black", size=6), hoverinfo="skip"))
fig.add_trace(go.Scatter(x=[1960.5], y=[100], yaxis="y2", mode="markers",
                         marker=dict(opacity=0), hoverinfo="skip"))

shapes = []
annotations = []

# recession shading
for a, b in zip(REC_START, REC_END):
    shapes.append(dict(type="rect", xref="x", yref="paper", x0=a, x1=b, y0=0, y1=1,
                       fillcolor=PINK, line=dict(width=0), layer="below"))

# event labels (log axis: annotation y is given as log10 of the value)
for name, ex, ey, (anc, dx, dy) in zip(EVENT_NAMES, EVENT_X, EVENT_Y, EVENT_STYLE):
    annotations.append(dict(x=ex, y=math.log10(ey), yref="y", xref="x", text=name,
                            showarrow=False, xanchor=anc, yanchor="middle",
                            xshift=dx, yshift=-dy,
                            font=dict(family=SERIF, size=13, color="black")))

for t, lx, ly, col in zip(SERIES_LABELS, SERIES_LABEL_X, SERIES_LABEL_Y, SERIES_LABEL_COLORS):
    annotations.append(dict(x=lx, y=math.log10(ly), xref="x", yref="y", text=t, showarrow=False,
                            xanchor="center", yanchor="middle",
                            font=dict(family=SERIF, size=20, color=col)))

# presidents row
shapes.append(dict(type="rect", xref="x", yref="paper", x0=1960, x1=2009,
                   y0=pxy(1884), y1=pxy(1904), line=dict(color=MAROON, width=1.5), layer="above"))
ends = PRES_START[1:] + [PRES_END_ALL]
for i, (nm, s, e) in enumerate(zip(PRESIDENTS, PRES_START, ends)):
    if i > 0:
        shapes.append(dict(type="line", xref="x", yref="paper", x0=s, x1=s,
                           y0=pxy(1885), y1=pxy(1903), line=dict(color="#222", width=1)))
    if i == 0:
        annotations.append(dict(x=s + 0.08, y=pxy(1894), xref="x", yref="paper", text=nm,
                                showarrow=False, xanchor="left", yanchor="middle",
                                font=dict(family=SERIF, size=13, color="black")))
    else:
        annotations.append(dict(x=(s + e) / 2, y=pxy(1894), xref="x", yref="paper", text=nm,
                                showarrow=False, xanchor="center", yanchor="middle",
                                font=dict(family=SERIF, size=13, color="black")))

# year row
shapes.append(dict(type="line", xref="x", yref="paper", x0=1960, x1=2009,
                   y0=pxy(1905), y1=pxy(1905), line=dict(color=MAROON, width=3)))
shapes.append(dict(type="line", xref="x", yref="paper", x0=1960, x1=2009,
                   y0=pxy(1908), y1=pxy(1908), line=dict(color="#d6a6c6", width=2)))
shapes.append(dict(type="line", xref="x", yref="paper", x0=1960, x1=2009,
                   y0=pxy(1962), y1=pxy(1962), line=dict(color="#b0527f", width=2.5)))
for yv in YEARS + [2009]:
    shapes.append(dict(type="line", xref="x", yref="paper", x0=yv, x1=yv,
                       y0=pxy(1909), y1=pxy(1961), line=dict(color="#333", width=1)))
for yv in YEARS:
    annotations.append(dict(x=yv + 0.5, y=pxy(1936), xref="x", yref="paper", text=str(yv),
                            showarrow=False, textangle=-90, xanchor="center", yanchor="middle",
                            font=dict(family=SERIF, size=19, color="#111")))

# right outer frame lines
shapes.append(dict(type="line", xref="paper", yref="paper", x0=pxx(3111), x1=pxx(3111),
                   y0=pxy(0), y1=pxy(1965), line=dict(color=PURPLE, width=3)))
shapes.append(dict(type="line", xref="paper", yref="paper", x0=pxx(3125), x1=pxx(3125),
                   y0=pxy(0), y1=pxy(1965), line=dict(color="#8b1a4a", width=3)))

# title box
shapes.append(dict(type="rect", xref="paper", yref="paper", x0=pxx(131), x1=pxx(652),
                   y0=pxy(31), y1=pxy(192), fillcolor="black", line=dict(width=0), layer="above"))
shapes.append(dict(type="rect", xref="paper", yref="paper", x0=pxx(124), x1=pxx(645),
                   y0=pxy(24), y1=pxy(185), fillcolor="white",
                   line=dict(color="#ff0000", width=3.5), layer="above"))
annotations.append(dict(x=pxx(384), y=pxy(57), xref="paper", yref="paper",
                        text="<b><i>CONSTRUCTION INDICATORS CHART</i></b>", showarrow=False,
                        xanchor="center", yanchor="middle",
                        font=dict(family=SERIF, size=27, color="black")))
annotations.append(dict(x=pxx(384), y=pxy(90), xref="paper", yref="paper", text="Prepared by",
                        showarrow=False, xanchor="center", yanchor="middle",
                        font=dict(family=SANS, size=8, color="black")))
annotations.append(dict(x=pxx(384), y=pxy(103), xref="paper", yref="paper",
                        text="SECURITIES RESEARCH COMPANY", showarrow=False,
                        xanchor="center", yanchor="middle",
                        font=dict(family=SANS, size=14, color="black")))
annotations.append(dict(x=pxx(384), y=pxy(121), xref="paper", yref="paper",
                        text="<b>WWW.SRCSTOCKCHARTS.COM</b>", showarrow=False,
                        xanchor="center", yanchor="middle",
                        font=dict(family=SANS, size=8, color="black")))
DISCLAIMER = [
    "The SRC Interest Rate Chart of Key Rates and Economic History is published periodically and copyrighted by Securities Research Company.  Reproduction of graphs, data,",
    "or other content, in whole or in part, without permission is forbidden.  Printed in U.S.A.  The graphs and other information appearing on this wall chart were derived from",
    "data provided by one or more third party information sources.  While these sources are generally reliable, Securities Research Company does not guarantee or warrant the",
    "accuracy, adequacy, or completeness of the contents of this wall chart.  Securities Research Company will not be liable for any loss or damages caused by reader's reliance",
    "on the content of this wall chart, which is for informational and educational purposes only, and should not be considered investment advice.",
    "Copyright 2007 \u2013 Securities Research Company.",
]
for i, line in enumerate(DISCLAIMER):
    annotations.append(dict(x=pxx(142), y=pxy(137 + i * 6.3), xref="paper", yref="paper",
                            text=line, showarrow=False, xanchor="left", yanchor="middle",
                            font=dict(family=SANS, size=5, color="black")))

# legend box
shapes.append(dict(type="rect", xref="paper", yref="paper", x0=pxx(2552), x1=pxx(2977),
                   y0=pxy(1621), y1=pxy(1827), fillcolor="black", line=dict(width=0), layer="above"))
shapes.append(dict(type="rect", xref="paper", yref="paper", x0=pxx(2545), x1=pxx(2970),
                   y0=pxy(1614), y1=pxy(1820), fillcolor="white",
                   line=dict(color="#ff0000", width=3.5), layer="above"))
LEG_LINES = [
    ("LEGEND", "black", 1628),
    ("Right/Left Scale Monthly Values", "black", 1658),
    ("Vertical Shadings indicate Recession/Depression", "black", 1679),
    ("<span style='color:#2a5aa0'>Value</span>  <span style='color:#1a4d8f'>PERMIT</span>", BLUE, 1699),
    ("Value  HOUST", RED, 1720),
    ("Value  HSN1F", "black", 1741),
    ("Value  SPX", "black", 1762),
    ("Securities Research Company  www.srcstockcharts.com", PURPLE, 1787),
]
for txt, col, yy in LEG_LINES:
    annotations.append(dict(x=pxx(2553), y=pxy(yy), xref="paper", yref="paper", text=txt,
                            showarrow=False, xanchor="left", yanchor="middle",
                            font=dict(family=SERIF, size=19, color=col)))
for col, yy in [(BLUE, 1699), (RED, 1720), ("#333", 1741)]:
    shapes.append(dict(type="line", xref="paper", yref="paper", x0=pxx(2764), x1=pxx(2812),
                       y0=pxy(yy), y1=pxy(yy), line=dict(color=col, width=1.5), layer="above"))
for k in range(11):
    xx = 2764 + k * 5
    shapes.append(dict(type="line", xref="paper", yref="paper", x0=pxx(xx), x1=pxx(xx),
                       y0=pxy(1754), y1=pxy(1770), line=dict(color="#222", width=1.2), layer="above"))
    shapes.append(dict(type="line", xref="paper", yref="paper", x0=pxx(xx - 2), x1=pxx(xx + 2),
                       y0=pxy(1760), y1=pxy(1760), line=dict(color="#222", width=1), layer="above"))

YMIN, YMAX = 0.99995, 3.9417
tick_text = [str(v) for v in TICK_VALUES]

fig.update_layout(
    width=W, height=H,
    margin=dict(l=ML, r=MR, t=MT, b=MB, autoexpand=False),
    plot_bgcolor="white", paper_bgcolor="white",
    showlegend=False,
    shapes=shapes,
    annotations=annotations,
    xaxis=dict(range=[1960, 2009], showticklabels=False, ticks="", tickmode="linear",
               tick0=1960, dtick=1, showgrid=True, gridcolor="#3c3c3c", gridwidth=1,
               minor=dict(tickmode="linear", tick0=1960, dtick=0.25, showgrid=True,
                          gridcolor="#d6d6d6", gridwidth=1.5, ticks=""),
               showline=True, linecolor=MAROON, linewidth=2, mirror=True, zeroline=False,
               rangeslider=dict(visible=False), fixedrange=True, automargin=False),
    yaxis=dict(type="log", range=[YMIN, YMAX], tickmode="array", tickvals=TICK_VALUES,
               ticktext=tick_text, ticks="outside", ticklen=9, tickwidth=1.5, tickcolor="#333",
               showgrid=True, gridcolor="#cacaca", gridwidth=1.5, showline=True,
               linecolor=MAROON, linewidth=2, mirror=True, zeroline=False, automargin=False,
               tickfont=dict(family=SERIF, size=20, color="#111"), fixedrange=True),
    yaxis2=dict(type="log", range=[YMIN, YMAX], overlaying="y", side="right",
                tickmode="array", tickvals=TICK_VALUES, ticktext=tick_text, ticks="outside",
                ticklen=9, tickwidth=1.5, tickcolor="#333", showgrid=False, showline=False,
                zeroline=False, automargin=False,
                tickfont=dict(family=SERIF, size=20, color="#111"), fixedrange=True),
)

fig.write_html("out.html")
